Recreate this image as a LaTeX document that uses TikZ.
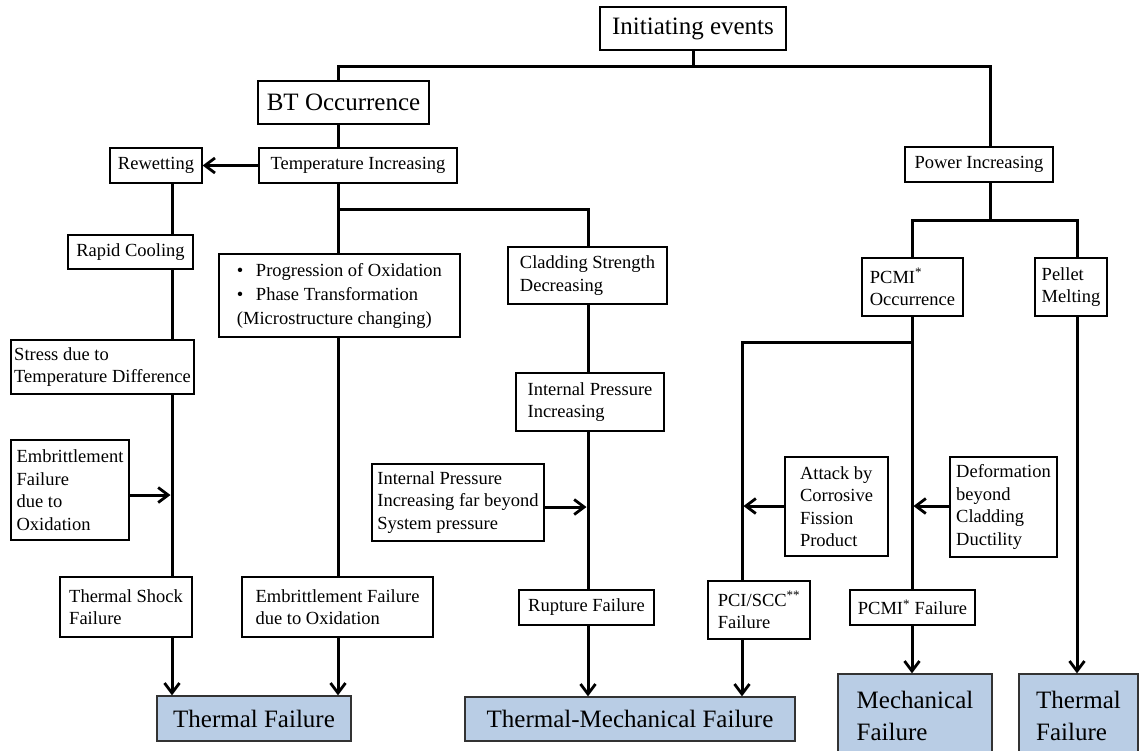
\documentclass[tikz,border=0pt]{standalone}
\usepackage{fontspec}
\setmainfont{Liberation Serif}
\usetikzlibrary{arrows.meta}
\definecolor{failblue}{HTML}{B9CDE5}
\tikzset{dim/.style 2 args={minimum width=#1pt, minimum height=#2pt}}

\begin{document}
\begin{tikzpicture}[
  x=1pt, y=-1pt,
  blk/.style={draw, line width=1.3pt, inner sep=3pt, align=left,
    font=\fontsize{18.5}{22.5}\selectfont},
  big/.style={blk, font=\fontsize{25}{31.5}\selectfont},
  fail/.style={big, fill=failblue, draw=black!80},
  link/.style={line width=3pt},
  arr/.style={link, -{Straight Barb[length=10pt,width=15pt,line width=2.8pt]}}
]
\useasboundingbox (0,0) rectangle (1141,750);
\clip (0,0) rectangle (1141,750);

\node[big, dim={186}{43}] (init) at (693,28.5) {Initiating events};
\node[big, dim={171}{43}] (bt) at (343.5,102.5) {BT Occurrence};
\node[blk, dim={198}{35}] (temp) at (358,165.5) {Temperature Increasing};
\node[blk, dim={92}{35}] (rewet) at (156,165.5) {Rewetting};
\node[blk, dim={148}{35}] (power) at (979,164.5) {Power Increasing};
\node[blk, dim={125}{34}] (rapid) at (130.5,252) {Rapid Cooling};
\node[blk, dim={241}{83}, font=\fontsize{18.5}{24}\selectfont] (prog) at (339.5,295.5)
  {\makebox[19pt][l]{•}Progression of Oxidation\\\makebox[19pt][l]{•}Phase Transformation\\(Microstructure changing)};
\node[blk, dim={159}{57}] (clad) at (587.5,275.5) {Cladding Strength\\Decreasing};
\node[blk, dim={101}{58}] (pcmi) at (912.5,287) {PCMI\textsuperscript{*}\\Occurrence};
\node[blk, dim={72}{58}] (pellet) at (1071,287) {Pellet\\Melting};
\node[blk, dim={183}{54}, inner sep=2pt] (stress) at (102.5,367) {Stress due to\\Temperature Difference};
\node[blk, dim={148}{58}] (ipi) at (590,402) {Internal Pressure\\Increasing};
\node[blk, dim={118}{100}] (emb1) at (70,490) {Embrittlement\\Failure\\due to\\Oxidation};
\node[blk, dim={172}{77}] (ipfar) at (458,502.5) {Internal Pressure\\Increasing far beyond\\System pressure};
\node[blk, dim={103}{99}] (attack) at (836.5,506.5) {Attack by\\Corrosive\\Fission\\Product};
\node[blk, dim={107}{100}] (deform) at (1003.5,507) {Deformation\\beyond\\Cladding\\Ductility};
\node[blk, dim={132}{60}] (shock) at (126,607) {Thermal Shock\\Failure};
\node[blk, dim={191}{60}] (emb2) at (337.5,607) {Embrittlement Failure\\due to Oxidation};
\node[blk, dim={135}{35}] (rupt) at (586.5,607.5) {Rupture Failure};
\node[blk, dim={102}{58}] (pci) at (759,610) {PCI/SCC\textsuperscript{**}\\Failure};
\node[blk, dim={125}{35}] (pcmif) at (912.5,607.5) {PCMI\textsuperscript{*} Failure};
\node[fail, dim={194}{45}] (tf) at (254,718.5) {Thermal Failure};
\node[fail, dim={330}{44}] (tmf) at (630,719) {Thermal-Mechanical Failure};
\node[fail, dim={154}{84}] (mf) at (915,716) {Mechanical\\Failure};
\node[fail, dim={119}{84}] (tf2) at (1078.5,716) {Thermal\\Failure};

\coordinate (tl) at (338,66);
\coordinate (tr) at (990,66);
\coordinate (tb) at (338,209);
\coordinate (lc) at (172,495);
\coordinate (mc) at (588,507);
\coordinate (pc) at (912,506);
\coordinate (sc) at (742,342);
\coordinate (ec) at (1077,220);

\draw[link] (init.south) -- (init.south |- tl);
\draw[link] (bt.north -| tl) -- (tl) -- (tr) -- (power.north -| tr);
\draw[link] (bt.south -| tl) -- (temp.north -| tl);
\draw[arr] (temp.west) -- (rewet.east);
\draw[link] (temp.south -| tb) -- (prog.north -| tb);
\draw[link] (tb) -- (tb -| mc) -- (clad.north -| mc);

\draw[link] (rewet.south -| lc) -- (rapid.north -| lc);
\draw[link] (rapid.south -| lc) -- (stress.north -| lc);
\draw[link] (stress.south -| lc) -- (shock.north -| lc);
\draw[arr] (emb1.east |- lc) -- ([xshift=-1.5pt]lc);
\draw[arr] (shock.south -| lc) -- (tf.north -| lc);

\draw[link] (prog.south -| tb) -- (emb2.north -| tb);
\draw[arr] (emb2.south -| tb) -- (tf.north -| tb);

\draw[link] (clad.south -| mc) -- (ipi.north -| mc);
\draw[link] (ipi.south -| mc) -- (rupt.north -| mc);
\draw[arr] (ipfar.east |- mc) -- ([xshift=-1.5pt]mc);
\draw[arr] (rupt.south -| mc) -- (tmf.north -| mc);

\draw[link] (power.south -| tr) -- (tr |- ec);
\draw[link] (pcmi.north -| pc) |- (ec) -- (pellet.north -| ec);
\draw[link] (pcmi.south -| pc) -- (pcmif.north -| pc);
\draw[link] (pc |- sc) -- (sc) -- (pci.north -| sc);
\draw[arr] (attack.west |- pc) -- ([xshift=1.5pt]sc |- pc);
\draw[arr] (deform.west |- pc) -- ([xshift=1.5pt]pc);
\draw[arr] (pci.south -| sc) -- (tmf.north -| sc);
\draw[arr] (pcmif.south -| pc) -- (mf.north -| pc);
\draw[arr] (pellet.south -| ec) -- (tf2.north -| ec);
\end{tikzpicture}
\end{document}
